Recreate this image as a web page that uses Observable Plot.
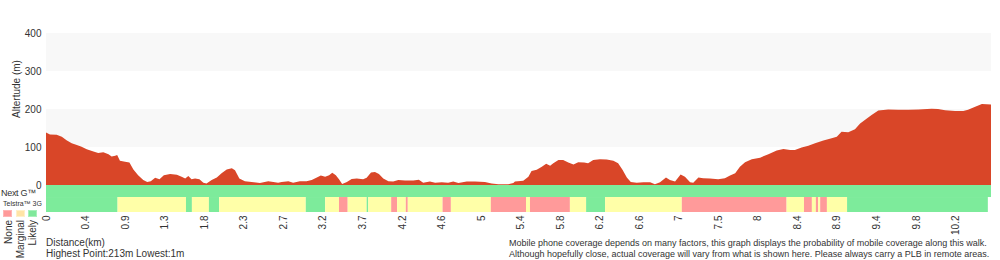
<!DOCTYPE html>
<html><head><meta charset="utf-8">
<script src="https://cdn.jsdelivr.net/npm/d3@7"></script>
<script src="https://cdn.jsdelivr.net/npm/@observablehq/plot@0.6"></script>
<style>
body{margin:0;background:#fff;font-family:"Liberation Sans",Arial,Helvetica,sans-serif;color:#333}
#wrap{position:relative;width:1000px;height:260px;overflow:hidden}
#wrap svg{position:absolute;left:0;top:0}
.t{position:absolute;white-space:nowrap;line-height:11px;font-size:10px;color:#333}
.rot{transform-origin:0 0}
.sw{position:absolute;width:7px;height:5px;border:1px solid}
</style></head><body><div id="wrap"></div>
<script>
// Position along the track (in x-tick steps) and altitude (m)
const pos = [0,0.10,0.27,0.40,0.52,0.65,0.78,0.90,1.03,1.20,1.32,1.45,1.58,1.66,1.75,1.80,1.87,2.00,2.11,2.21,2.33,2.46,2.56,2.65,2.76,2.87,2.98,3.14,3.31,3.43,3.52,3.60,3.68,3.77,3.88,3.98,4.06,4.19,4.32,4.44,4.57,4.70,4.78,4.89,5.03,5.20,5.41,5.62,5.75,5.87,5.96,6.13,6.25,6.42,6.59,6.72,6.85,6.95,7.06,7.16,7.24,7.33,7.41,7.49,7.61,7.73,7.86,8.02,8.11,8.22,8.32,8.42,8.53,8.66,8.78,8.91,9.08,9.29,9.43,9.54,9.71,9.84,10.01,10.17,10.30,10.43,10.64,10.85,11.10,11.27,11.44,11.69,11.82,11.86,12.07,12.20,12.28,12.41,12.54,12.65,12.75,12.83,12.96,13.08,13.21,13.34,13.46,13.61,13.71,13.84,14.01,14.18,14.35,14.47,14.58,14.69,14.79,14.94,15.11,15.28,15.40,15.53,15.68,15.78,15.91,16.05,16.16,16.29,16.37,16.50,16.62,16.79,17.00,17.17,17.30,17.43,17.55,17.68,17.85,18.06,18.27,18.48,18.65,18.82,18.94,19.11,19.28,19.45,19.66,19.87,20.00,20.12,20.29,20.46,20.59,20.76,20.88,21.05,21.30,21.55,21.81,22.06,22.40,22.56,22.74,22.99,23.20,23.32,23.50,23.67,23.90];
const elev = [138,133,132,127,118,110,105,101,94,88,84,86,81,75,77,79,64,61,59,41,26,13,8,10,19,15,26,29,27,22,17,24,15,17,15,6,4,13,20,31,41,44,39,17,10,8,5,10,8,6,8,10,6,10,10,13,20,25,22,26,32,26,15,3,8,16,17,15,19,33,34,29,17,10,9,13,12,12,14,6,9,6,7,6,9,5,9,9,8,4,2,2,5,9,11,22,37,40,48,56,51,57,66,66,59,54,60,59,57,66,68,67,64,57,40,20,8,6,7,7,2,7,20,13,9,28,22,7,6,20,18,17,15,18,25,31,48,60,68,72,81,91,95,92,92,99,103,110,117,123,127,140,139,147,162,175,184,196,199,198,198,199,201,200,197,195,195,198,206,213,212];

// Distance tick labels (km), one per tick step
const tickLabels = ["0","0.4","0.9","1.3","1.8","2.3","2.7","3.2","3.7","4.2","4.6","5","5.4","5.8","6.2","6.6","7","7.5","8","8.4","8.9","9.4","9.8","10.2"];
const tickPos = [0,1,2,3,4,5,6,7,8,9,10,11,12,13,14,15,16,17,18,19,20,21,22,23];
const yTicks = [0,100,200,300,400];
const bandLow = [100,300];
const bandHigh = [200,400];

// Coverage
const levels = ["None","Marginal","Likely"];
const nextGStart = [0];
const nextGEnd = [23.9];
const nextGLevel = ["Likely"];
const g3Start = [0,1.81,3.54,3.69,4.12,4.38,6.57,7.06,7.41,7.63,8.11,8.15,8.73,8.88,9.10,9.15,10.03,10.24,11.25,12.14,12.24,13.25,13.66,14.14,16.08,18.73,19.17,19.37,19.47,19.53,19.58,19.75,20.26];
const g3End   = [1.81,3.54,3.69,4.12,4.38,6.57,7.06,7.41,7.63,8.11,8.15,8.73,8.88,9.10,9.15,10.03,10.24,11.25,12.14,12.24,13.25,13.66,14.14,16.08,18.73,19.17,19.37,19.47,19.53,19.58,19.75,20.26,23.82];
const g3Level = ["Likely","Marginal","Likely","Marginal","Likely","Marginal","Likely","Marginal","None","Marginal","Likely","Marginal","None","Marginal","None","Marginal","None","Marginal","None","Marginal","None","Marginal","Likely","Marginal","None","Marginal","None","Marginal","None","Marginal","None","Marginal","Likely"];

const profile = pos.map((p, i) => ({pos: p, elev: elev[i]}));
const bands = bandLow.map((b, i) => ({lo: b, hi: bandHigh[i]}));
const nextG = nextGStart.map((s, i) => ({x1: s, x2: nextGEnd[i], level: nextGLevel[i]}));
const g3 = g3Start.map((s, i) => ({x1: s, x2: g3End[i], level: g3Level[i]}));

const chart = Plot.plot({
  width: 1000, height: 260,
  marginTop: 33, marginBottom: 48, marginLeft: 46, marginRight: 9,
  style: {fontFamily: '"Liberation Sans", Arial, sans-serif', fontSize: "10px", color: "#333", background: "transparent"},
  x: {domain: [0, 23.9]},
  y: {domain: [-71, 400]},
  color: {domain: levels, range: ["#ff9a9a", "#ffffa8", "#7deb9b"]},
  marks: [
    Plot.rect(bands, {y1: "lo", y2: "hi", fill: "#f8f8f8"}),
    Plot.areaY(profile, {x: "pos", y: "elev", fill: "#d94628"}),
    Plot.rect(nextG, {x1: "x1", x2: "x2", y1: -31.6, y2: 0, fill: "level"}),
    Plot.rect(g3, {x1: "x1", x2: "x2", y1: -71, y2: -31.6, fill: "level"}),
    Plot.axisY(yTicks, {tickSize: 0, tickPadding: 5, label: null, fontSize: 10}),
    Plot.axisX(tickPos, {tickFormat: i => tickLabels[i], tickRotate: -90, tickSize: 0, tickPadding: 3, label: null, fontSize: 10})
  ]
});

const wrap = document.getElementById("wrap");
wrap.appendChild(chart);

function addText(txt, left, cy, opts = {}) {
  const d = document.createElement("div");
  d.className = "t" + (opts.rot ? " rot" : "");
  d.textContent = txt;
  if (opts.size) d.style.fontSize = opts.size + "px";
  if (opts.ls) d.style.letterSpacing = opts.ls + "px";
  const lh = opts.lh || 11;
  d.style.lineHeight = lh + "px";
  d.style.left = left + "px";
  if (opts.rot === "center") {
    d.style.top = cy + "px";
    d.style.transform = "rotate(-90deg) translate(-50%,-50%)";
  } else if (opts.rot === "top") {
    d.style.top = cy + "px";
    d.style.transform = "rotate(-90deg) translate(-100%,-50%)";
  } else {
    d.style.top = (cy - lh / 2) + "px";
  }
  wrap.appendChild(d);
  return d;
}
addText("Altertude (m)", 16, 89, {rot: "center"});
addText("Next G\u2122", 1, 193, {size: 9, ls: -0.3, lh: 9});
addText("Telstra\u2122 3G", 3, 204, {size: 7, lh: 8});
const swCols = [["#ff9a9a", "#ffb5b5"], ["#ffe4a6", "#fff0c8"], ["#80e89b", "#a8f0bb"]];
const swX = [3, 16, 28];
swCols.forEach((c, i) => {
  const s = document.createElement("div");
  s.className = "sw";
  s.style.left = swX[i] + "px"; s.style.top = "210px";
  s.style.background = c[0]; s.style.borderColor = c[1];
  wrap.appendChild(s);
});
const legX = [8, 20, 32];
levels.forEach((l, i) => addText(l, legX[i], 220, {rot: "top"}));
addText("Distance(km)", 46, 242);
addText("Highest Point:213m Lowest:1m", 46, 253);
addText("Mobile phone coverage depends on many factors, this graph displays the probability of mobile coverage along this walk.", 509, 243, {size: 9});
addText("Although hopefully close, actual coverage will vary from what is shown here. Please always carry a PLB in remote areas.", 509, 254, {size: 9});
</script></body></html>
